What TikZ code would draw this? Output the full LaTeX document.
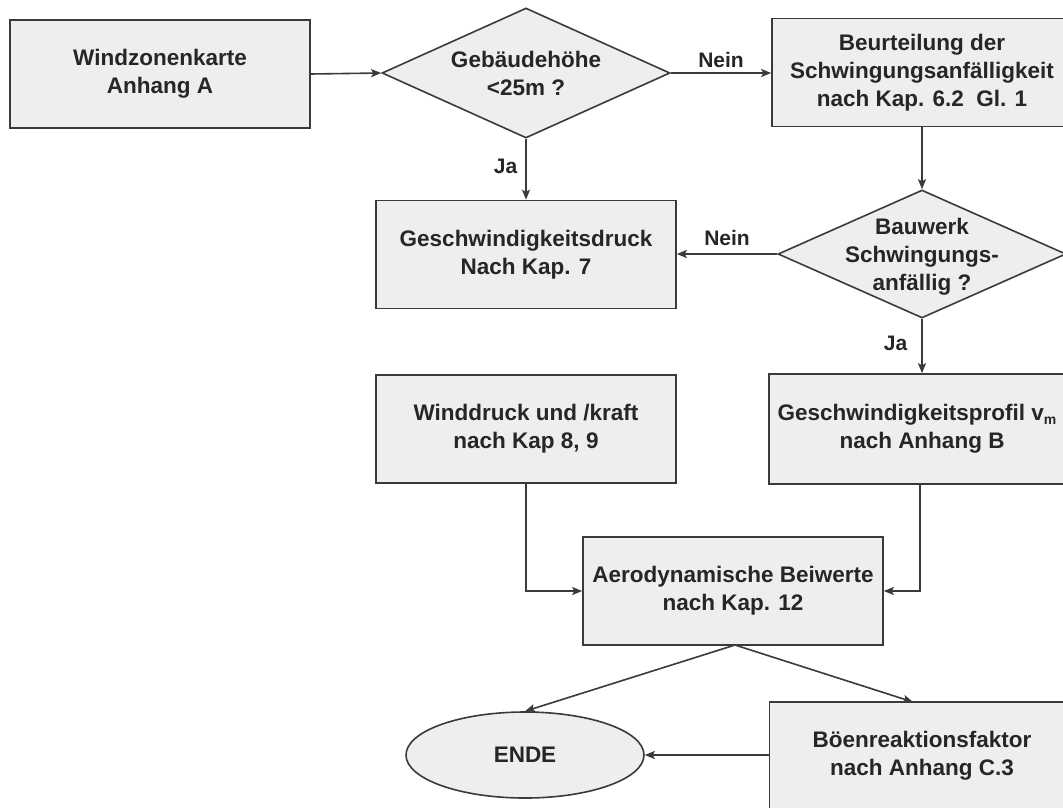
\documentclass[tikz,border=0pt]{standalone}
\usepackage{fontspec}
\setmainfont{Liberation Sans}
\usetikzlibrary{shapes.geometric,arrows.meta}
\definecolor{boxfill}{HTML}{EEEEEE}
\definecolor{edge}{HTML}{3A3A3A}
\definecolor{ink}{HTML}{262626}
\tikzset{
  bigfont/.style={font=\bfseries\fontsize{22.5}{28}\selectfont},
  stepbox/.style={draw=edge, line width=1.6pt, fill=boxfill, minimum width=300pt, minimum height=108pt, inner sep=0pt, text=ink, bigfont, align=center},
  dia/.style={draw=edge, line width=1.6pt, fill=boxfill, shape=diamond, inner sep=0pt},
  txt/.style={text=ink, bigfont, align=center, inner sep=0pt},
  lbl/.style={text=ink, font=\bfseries\fontsize{21}{24}\selectfont, inner sep=0pt},
  conn/.style={draw=edge, line width=1.6pt, -{Stealth[length=10pt,width=8pt,inset=2pt]}},
}
\begin{document}
\begin{tikzpicture}[x=1pt,y=-1pt]
\useasboundingbox (0,0) rectangle (1063,807);
% boxes
\node[stepbox] (wz) at (160,74) {Windzonenkarte\\Anhang A};
\node[dia, minimum width=288pt, minimum height=130pt] (d1) at (526,73) {};
\node[txt] (d1t) at (526,73) {Gebäudehöhe\\<25m ?};
\node[stepbox] (beu) at (922,72.5) {Beurteilung der\\Schwingungsanfälligkeit\\nach Kap. 6.2~~Gl. 1};
\node[stepbox] (gd) at (526,254.5) {Geschwindigkeitsdruck\\Nach Kap. 7};
\node[dia, minimum width=288pt, minimum height=128pt] (d2) at (922,254) {};
\node[txt] (d2t) at (922,257) {Bauwerk\\Schwingungs-\\anfällig ?};
\node[stepbox] (wd) at (526,429) {Winddruck und /kraft\\nach Kap 8, 9};
\node[stepbox, minimum width=306pt, minimum height=110pt] (gp) at (922,429) {\hspace*{-10pt}Geschwindigkeitsprofil v\raisebox{-4pt}{\fontsize{14}{14}\selectfont m}\\nach Anhang B};
\node[stepbox] (aero) at (733,591) {Aerodynamische Beiwerte\\nach Kap. 12};
\node[draw=edge, line width=1.6pt, fill=boxfill, shape=ellipse, minimum width=238pt, minimum height=86pt, inner sep=0pt, text=ink, bigfont] (ende) at (525,755) {ENDE};
\node[stepbox, minimum width=305pt] (boen) at (922,756) {Böenreaktionsfaktor\\nach Anhang C.3};
% connectors
\draw[conn] (wz.east) -- (d1.west);
\draw[conn] (d1.east) -- node[lbl, above=5pt] (nein1) {Nein} (beu.west |- d1.east);
\draw[conn] (d1.south) -- node[lbl, pos=0.45, left=8pt] (ja1) {Ja} (gd.north);
\draw[conn] (beu.south) -- (d2.north);
\draw[conn] (d2.west) -- node[lbl, above=8pt] (nein2) {Nein} (gd.east |- d2.west);
\draw[conn] (d2.south) -- node[lbl, pos=0.45, left=14pt] (ja2) {Ja} (gp.north);
\draw[conn] (wd.south) |- (aero.west);
\draw[conn] (gp.south -| 920,0) |- (aero.east);
\coordinate (abot) at (735,645);
\coordinate (btop) at (913,702);
\draw[conn] (abot) -- (ende.north);
\draw[conn] (abot) -- (btop);
\draw[conn] (boen.west |- ende.east) -- (ende.east);
\end{tikzpicture}
\end{document}
